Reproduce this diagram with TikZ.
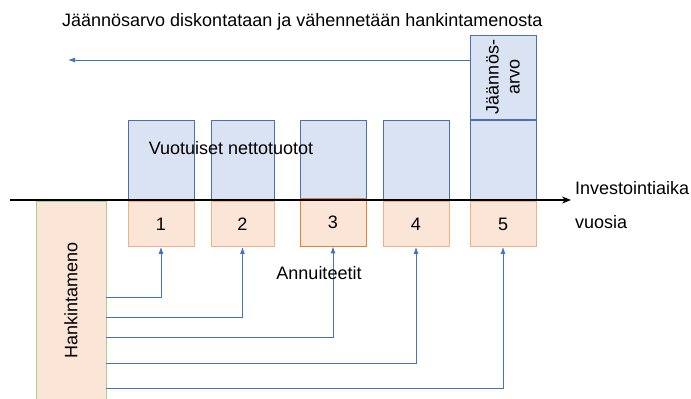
\documentclass[tikz,border=0pt]{standalone}
\usepackage{fontspec}
\setmainfont{Liberation Sans}
\usetikzlibrary{arrows.meta}
\definecolor{boxblue}{HTML}{DAE3F3}
\definecolor{lineblue}{HTML}{4A6FB5}
\definecolor{arrowblue}{HTML}{4472C4}
\definecolor{boxorange}{HTML}{FBE5D6}
\definecolor{lineorange}{HTML}{F4B183}
\definecolor{darkorange}{HTML}{ED7D31}
\definecolor{linegreen}{HTML}{A9D18E}
\tikzset{
  yieldbox/.style={draw=lineblue, fill=boxblue, line width=0.8pt, inner sep=0pt},
  annbox/.style={fill=boxorange, line width=0.8pt, inner sep=0pt},
  flow/.style={draw=arrowblue, line width=0.9pt, -{Latex[length=7pt,width=5pt]}},
  lbl/.style={font=\fontsize{18}{21}\selectfont, inner sep=0pt}
}

\begin{document}
\begin{tikzpicture}[x=1pt,y=-1pt]
	\useasboundingbox (0,0) rectangle (691,399);
	% hankintameno
	\node[draw=linegreen, fill=boxorange, line width=0.8pt, minimum width=70, minimum height=212, inner sep=0pt] (hank) at (71,307) {};
	\node[lbl, rotate=90] (hanklbl) at (71,300) {Hankintameno};
	% vuodet
	\foreach \n/\x/\w/\c/\oy/\oh in {1/161/66/lineorange/224/45,2/242.5/63/lineorange/224/45,3/333/66/darkorange/222/48,4/416/66/lineorange/224/45,5/503/66/lineorange/224/45}{
		\node[yieldbox, minimum width=\w, minimum height=80] (y\n) at (\x,160) {};
		\node[annbox, draw=\c, minimum width=\w, minimum height=\oh, lbl] (o\n) at (\x,\oy) {\n};
	}
	\node[yieldbox, minimum width=66, minimum height=84] (j5) at (503,77) {};
	\node[lbl, rotate=90, align=center] (j5lbl) at (503,77) {Jäännös-\\arvo};
	% aikajana
	\coordinate (ax0) at (10,200);
	\coordinate (ax1) at (571,200);
	\draw [line width=1.3pt,-{Stealth[length=9pt,width=7pt]}] (ax0) -- (ax1);
	\node[lbl, anchor=west] (inv) at (575,188) {Investointiaika};
	\node[lbl, anchor=west] (vuo) at (575,222) {vuosia};
	% tekstit
	\node[lbl, anchor=west] (otsikko) at (62,22) {Jäännösarvo diskontataan ja vähennetään hankintamenosta};
	\node[lbl] (tuotot) at (231,148) {Vuotuiset nettotuotot};
	% annuiteetit
	\draw[flow] (hank.east |- 0,297) -| (o1.south);
	\draw[flow] (hank.east |- 0,317) -| (o2.south);
	\draw[flow] (hank.east |- 0,337) -| (o3.south);
	\draw[flow] (hank.east |- 0,363) -| (o4.south);
	\draw[flow] (hank.east |- 0,388) -| (o5.south);
	\node[lbl] (ann) at (319,273) {Annuiteetit};
	% diskonttaus
	\coordinate (disc) at (68,60);
	\draw[flow] (disc -| j5.west) -- (disc);
\end{tikzpicture}
\end{document}
